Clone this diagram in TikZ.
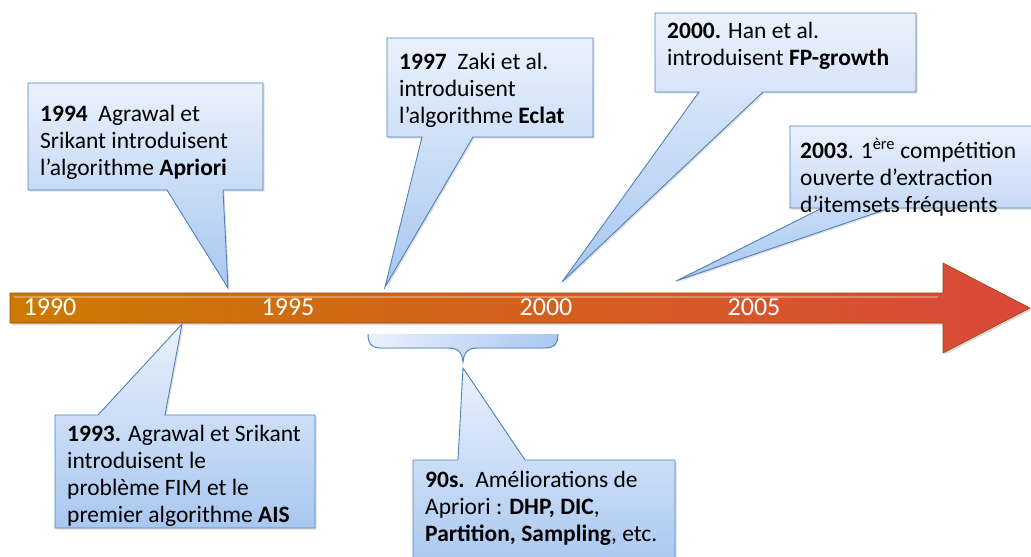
\documentclass[tikz,border=0pt]{standalone}
\usepackage{fontspec}
\setmainfont{Carlito}
\usetikzlibrary{shadows}

\definecolor{calloutline}{RGB}{79,129,189}
\definecolor{callouttop}{RGB}{234,241,252}
\definecolor{calloutbottom}{RGB}{168,199,240}
\definecolor{barleft}{RGB}{204,122,0}
\definecolor{barright}{RGB}{218,72,58}
\definecolor{baredge}{RGB}{150,72,20}

\tikzset{
  bubble/.style={draw=calloutline, line width=0.9pt, top color=callouttop, bottom color=calloutbottom,
    drop shadow={shadow xshift=1.5pt, shadow yshift=-1.5pt, opacity=0.25}},
  bubbletext/.style={anchor=north west, inner sep=0pt, align=left, font=\fontsize{23.5}{27}\selectfont},
  year/.style={text=white, font=\fontsize{26}{30}\selectfont},
  axisarrow/.style={draw=baredge, line width=0.6pt, left color=barleft, right color=barright,
    drop shadow={shadow xshift=1.5pt, shadow yshift=-2pt, opacity=0.3}},
}

% callout, tail on the bottom side
\newcommand{\downbubble}[7]{%
  \draw[bubble] (#1,#2) -- (#3,#2) -- (#3,#4) -- (#6,#4) -- (#7) -- (#5,#4) -- (#1,#4) -- cycle;}
% callout, tail on the top side
\newcommand{\upbubble}[7]{%
  \draw[bubble] (#1,#2) -- (#5,#2) -- (#7) -- (#6,#2) -- (#3,#2) -- (#3,#4) -- (#1,#4) -- cycle;}

\begin{document}
\begin{tikzpicture}[x=1pt, y=-1pt]
    \useasboundingbox (0,0) rectangle (1031,557);

    % time axis
    \draw[axisarrow] (10,293) -- (943,293) -- (943,263) -- (1030,308) -- (943,353) -- (943,323) -- (10,323) -- cycle;
    \draw[white, opacity=0.3, line width=2pt] (14,297) -- (938,297);

    \node[year] (y1990) at (50,307) {1990};
    \node[year] (y1995) at (288,307) {1995};
    \node[year] (y2000) at (546,307) {2000};
    \node[year] (y2005) at (754,307) {2005};

    % where the tails end
    \coordinate (t1994) at (228,288);
    \coordinate (t1997) at (385,287);
    \coordinate (t2000) at (562,282);
    \coordinate (t2003) at (676,281);
    \coordinate (t1993) at (182,324);
    \coordinate (t90s) at (463,368);

    % brace over the nineties
    \fill[left color=callouttop, right color=calloutbottom]
        (368,334) -- (558,334) .. controls (558,343) and (555,348) .. (545,348) -- (478,348)
        .. controls (468,348) and (464,352) .. (463,362) .. controls (462,352) and (458,348) .. (448,348)
        -- (381,348) .. controls (371,348) and (368,343) .. (368,334) -- cycle;
    \draw[calloutline, line width=0.9pt]
        (558,334) .. controls (558,343) and (555,348) .. (545,348) -- (478,348)
        .. controls (468,348) and (464,352) .. (463,362) .. controls (462,352) and (458,348) .. (448,348)
        -- (381,348) .. controls (371,348) and (368,343) .. (368,334);

    \downbubble{28}{83}{263}{190}{167}{223}{t1994}
    \downbubble{387}{38}{593}{137}{422}{473}{t1997}
    \downbubble{655}{13}{916}{92}{699}{763}{t2000}
    \downbubble{790}{126}{1040}{208}{822}{890}{t2003}
    \upbubble{55}{415}{315}{528}{98}{165}{t1993}
    \upbubble{413}{460}{675}{570}{458}{525}{t90s}

    \node[bubbletext] (n1994) at (40,105) {\textbf{1994}\ \ Agrawal et\\ Srikant introduisent\\ l’algorithme \textbf{Apriori}};
    \node[bubbletext] (n1997) at (399,53) {\textbf{1997}\ \ Zaki et al.\\ introduisent\\ l’algorithme \textbf{Eclat}};
    \node[bubbletext] (n2000) at (667,22) {\textbf{2000.} Han et al.\\ introduisent \textbf{FP-growth}};
    \node[bubbletext] (n2003) at (800,138) {\textbf{2003}. 1\textsuperscript{ère} compétition\\ ouverte d’extraction\\ d’itemsets fréquents};
    \node[bubbletext] (n1993) at (67,425) {\textbf{1993.} Agrawal et Srikant\\ introduisent le\\ problème FIM et le\\ premier algorithme \textbf{AIS}};
    \node[bubbletext] (n90s) at (425,471) {\textbf{90s.}\ \ Améliorations de\\ Apriori : \textbf{DHP, DIC},\\ \textbf{Partition, Sampling}, etc.};
\end{tikzpicture}
\end{document}
